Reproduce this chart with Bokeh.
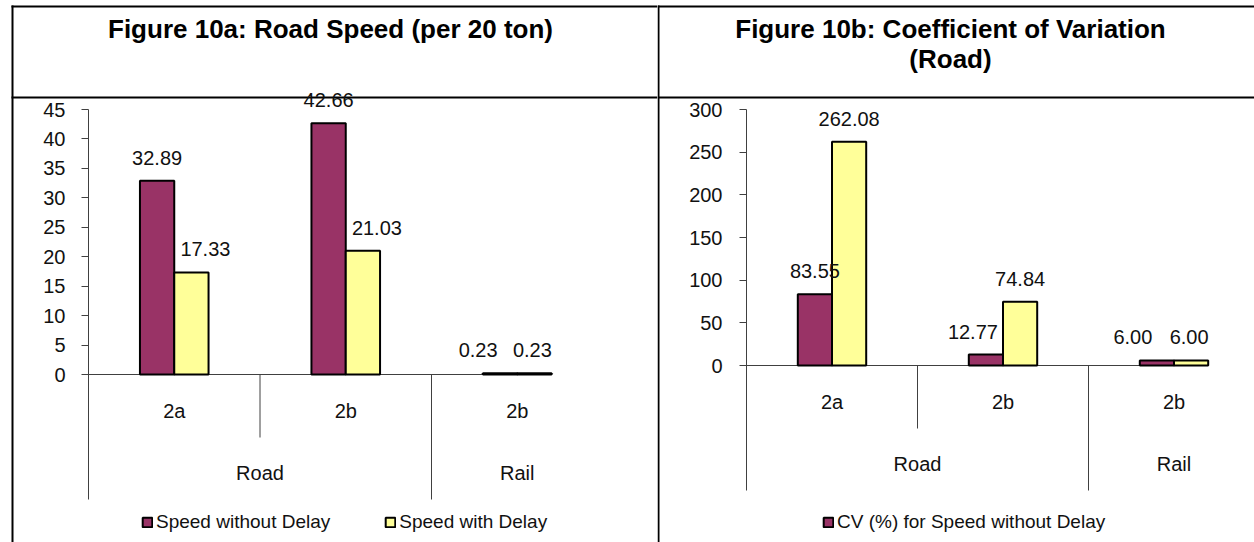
from bokeh.plotting import figure
from bokeh.models import Range1d, LinearAxis, FixedTicker, Legend, LegendItem
from bokeh.layouts import row
from bokeh.embed import file_html
from bokeh.resources import INLINE
from bokeh.core.properties import value

# ---------------- data ----------------
subgroups = ["2a", "2b", "2b"]
groups = ["Road", "Rail"]
group_sizes = [2, 1]

speed_without_delay = [32.89, 42.66, 0.23]
speed_with_delay = [17.33, 21.03, 0.23]
speed_ticks = [0, 5, 10, 15, 20, 25, 30, 35, 40, 45]

cv_without_delay = [83.55, 12.77, 6.00]
cv_with_delay = [262.08, 74.84, 6.00]
cv_ticks = [0, 50, 100, 150, 200, 250, 300]

# ---------------- styling ----------------
PAGE_H = 542
FONT = "Liberation Sans"
PURPLE = "#993366"
YELLOW = "#FFFF99"
AXIS_GREY = "#404040"
TEXT = "#111111"
BAR_W = 0.2            # bar width in category units
LABEL_RISE = 23        # px between bar top and centre of its value label
LEVEL1_DROP = 36.5     # px below zero line for sub-category labels
LEVEL2_DROP = 98.5     # px below zero line for group labels
SHORT_TICK = 63        # px length of divider between sub-categories
LONG_TICK = 125        # px length of divider between groups


def make_panel(width, axis_px, cat_w, zero_px, top_px, ticks, s1, s2,
               nudge1, nudge2, title_lines, title_cx, legend_labels,
               legend_x, left_border, rule_start, label_standoff):
    ymax = ticks[-1]
    ppu = (zero_px - top_px) / ymax          # pixels per value unit

    p = figure(width=width, height=PAGE_H,
               x_range=Range1d(0, width), y_range=Range1d(PAGE_H, 0),
               x_axis_type=None, y_axis_type=None,
               output_backend="svg", toolbar_location=None,
               min_border=0, outline_line_color=None)
    p.extra_x_ranges = {"cat": Range1d(-axis_px / cat_w, (width - axis_px) / cat_w)}
    p.extra_y_ranges = {"val": Range1d(-(PAGE_H - zero_px) / ppu, zero_px / ppu)}

    # table frame: top rule, rule under the heading, vertical border
    p.segment(x0=[rule_start, rule_start], x1=[width, width], y0=[6, 97], y1=[6, 97],
              line_color="black", line_width=2)
    p.segment(x0=[left_border], x1=[left_border], y0=[5], y1=[PAGE_H],
              line_color="black", line_width=2)

    # heading
    p.text(x=[title_cx] * len(title_lines), y=[28 + 30 * i for i in range(len(title_lines))],
           text=title_lines, text_font=value(FONT), text_font_style="bold",
           text_font_size="26px", text_align="center", text_baseline="middle",
           text_color="black")

    n = len(subgroups)
    centers = [i + 0.5 for i in range(n)]
    x1 = [c - BAR_W / 2 for c in centers]
    x2 = [c + BAR_W / 2 for c in centers]

    # zero line up to the last bar
    p.segment(x0=[0], x1=[x2[-1] + BAR_W / 2], y0=[0], y1=[0],
              x_range_name="cat", y_range_name="val",
              line_color=AXIS_GREY, line_width=1)

    # multi-level category dividers
    bounds = []
    acc = 0
    for k, size in enumerate(group_sizes):
        for j in range(1, size):
            bounds.append((acc + j, SHORT_TICK))
        acc += size
        if k < len(group_sizes) - 1:
            bounds.append((acc, LONG_TICK))
    p.segment(x0=[b[0] for b in bounds], x1=[b[0] for b in bounds],
              y0=[0] * len(bounds), y1=[-b[1] / ppu for b in bounds],
              x_range_name="cat", y_range_name="val",
              line_color=AXIS_GREY, line_width=1)

    r1 = p.vbar(x=x1, top=s1, bottom=0, width=BAR_W, fill_color=PURPLE,
                line_color="black", line_width=2,
                x_range_name="cat", y_range_name="val")
    r2 = p.vbar(x=x2, top=s2, bottom=0, width=BAR_W, fill_color=YELLOW,
                line_color="black", line_width=2,
                x_range_name="cat", y_range_name="val")

    # value labels
    for xs, vals, nud in ((x1, s1, nudge1), (x2, s2, nudge2)):
        p.text(x=xs, y=vals, text=[f"{v:.2f}" for v in vals],
               x_offset=nud, y_offset=-LABEL_RISE,
               x_range_name="cat", y_range_name="val",
               text_font=value(FONT), text_font_size="20px",
               text_align="center", text_baseline="middle", text_color=TEXT)

    # category labels
    p.text(x=centers, y=[0] * n, text=subgroups, y_offset=LEVEL1_DROP,
           x_range_name="cat", y_range_name="val",
           text_font=value(FONT), text_font_size="20px",
           text_align="center", text_baseline="middle", text_color=TEXT)
    gcent = []
    acc = 0
    for size in group_sizes:
        gcent.append(acc + size / 2)
        acc += size
    p.text(x=gcent, y=[0] * len(groups), text=groups, y_offset=LEVEL2_DROP,
           x_range_name="cat", y_range_name="val",
           text_font=value(FONT), text_font_size="20px",
           text_align="center", text_baseline="middle", text_color=TEXT)

    # value axis, also forming the left edge of the category table
    ax = LinearAxis(x_range_name="cat", y_range_name="val", fixed_location=0,
                    bounds=(-LONG_TICK / ppu, ymax),
                    ticker=FixedTicker(ticks=ticks),
                    major_tick_out=7, major_tick_in=0,
                    minor_tick_out=0, minor_tick_in=0,
                    major_label_standoff=label_standoff,
                    axis_line_color=AXIS_GREY, major_tick_line_color=AXIS_GREY,
                    major_label_text_font=FONT, major_label_text_font_size="20px",
                    major_label_text_color=TEXT)
    p.add_layout(ax, "left")

    items = [LegendItem(label=lab, renderers=[r])
             for lab, r in zip(legend_labels, (r1, r2))]
    leg = Legend(items=items, location=(legend_x, 9), orientation="horizontal",
                 glyph_width=12, glyph_height=12, label_standoff=3, spacing=54,
                 padding=0, margin=0, label_height=22,
                 border_line_color=None, background_fill_alpha=0,
                 label_text_font=FONT, label_text_font_size="19px",
                 label_text_color=TEXT)
    p.add_layout(leg)
    return p


fig_a = make_panel(657, 88, 171.5, 374, 109, speed_ticks,
                   speed_without_delay, speed_with_delay,
                   [0, 0, -22], [14, 14, -2],
                   ["Figure 10a: Road Speed (per 20 ton)"], 330,
                   ["Speed without Delay", "Speed with Delay"],
                   141, 12, 11, 16)

fig_b = make_panel(597, 89, 171, 365, 109, cv_ticks,
                   cv_without_delay, cv_with_delay,
                   [0, -13, -24], [0, 0, -2],
                   ["Figure 10b: Coefficient of Variation", "(Road)"], 293,
                   ["CV (%) for Speed without Delay"],
                   165, 1, 0, 17)

layout = row(fig_a, fig_b)
open("out.html", "w").write(file_html(layout, INLINE))
